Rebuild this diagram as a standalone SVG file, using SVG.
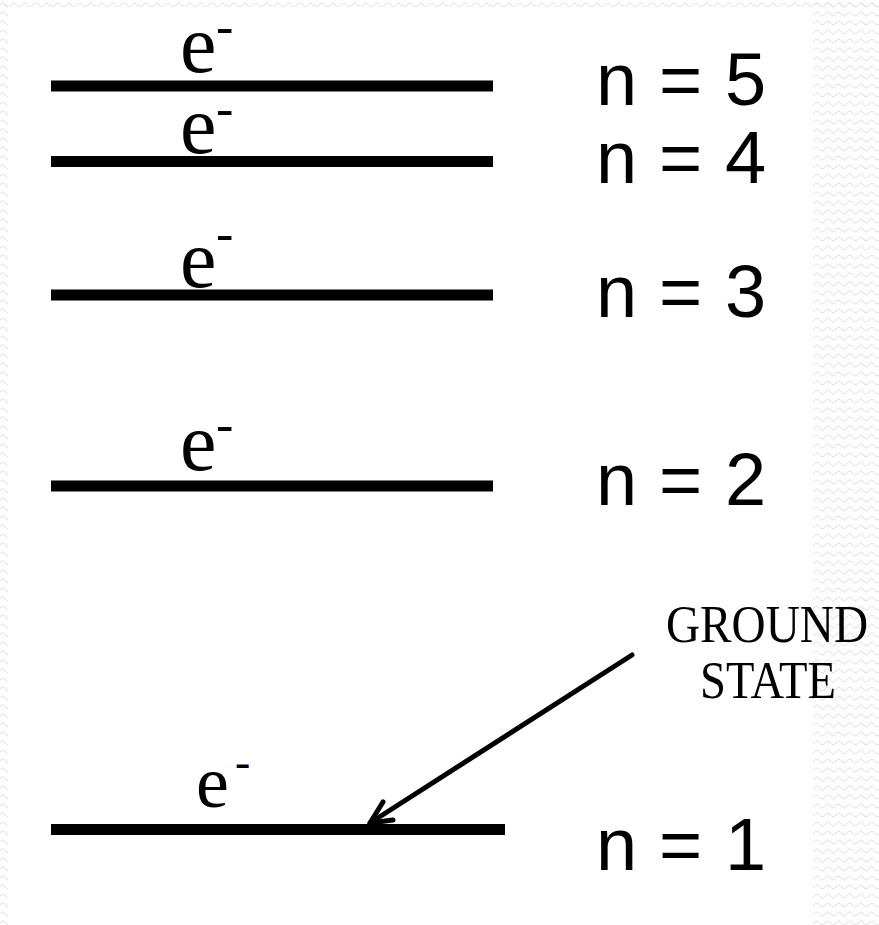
<svg xmlns="http://www.w3.org/2000/svg" width="879" height="925" viewBox="0 0 879 925">
  <defs>
    <pattern id="wave" width="11" height="9" patternUnits="userSpaceOnUse">
      <path d="M0 5 Q2.75 1 5.5 5 T11 5" fill="none" stroke="#dcdcdc" stroke-width="1"/>
    </pattern>
  </defs>
  <style>
    .level { stroke: #000; stroke-width: 11; stroke-linecap: butt; }
    .e { font-family: "Liberation Serif", "Times New Roman", serif; font-size: 82px; fill: #000; }
    .m { font-family: "Liberation Serif", "Times New Roman", serif; font-size: 52px; fill: #000; }
    .n { font-family: "Liberation Sans", Arial, Helvetica, sans-serif; font-size: 74px; fill: #000; }
    .gs { font-family: "Liberation Serif", "Times New Roman", serif; font-size: 53px; fill: #000; }
    .arrow { stroke: #000; stroke-width: 5; fill: none; stroke-linecap: round; stroke-linejoin: round; }
  </style>
  <rect x="0" y="0" width="879" height="925" fill="#ffffff"/>
  <rect x="0" y="0" width="879" height="7" fill="url(#wave)"/>
  <rect x="0" y="0" width="8" height="925" fill="url(#wave)"/>
  <rect x="813" y="0" width="66" height="925" fill="url(#wave)"/>

  <g id="level5">
    <line class="level" x1="51" y1="86" x2="493" y2="86"/>
    <text class="e" x="180" y="72">e<tspan class="m" x="216" y="44">-</tspan></text>
    <text class="n" y="105"><tspan x="596">n</tspan><tspan x="659">=</tspan><tspan x="725">5</tspan></text>
  </g>
  <g id="level4">
    <line class="level" x1="51" y1="161.5" x2="493" y2="161.5"/>
    <text class="e" x="180" y="153">e<tspan class="m" x="216" y="126">-</tspan></text>
    <text class="n" y="183"><tspan x="596">n</tspan><tspan x="659">=</tspan><tspan x="725">4</tspan></text>
  </g>
  <g id="level3">
    <line class="level" x1="51" y1="295" x2="493" y2="295"/>
    <text class="e" x="180" y="287">e<tspan class="m" x="216" y="251">-</tspan></text>
    <text class="n" y="317"><tspan x="596">n</tspan><tspan x="659">=</tspan><tspan x="725">3</tspan></text>
  </g>
  <g id="level2">
    <line class="level" x1="51" y1="486" x2="493" y2="486"/>
    <text class="e" x="180" y="470">e<tspan class="m" x="216" y="442">-</tspan></text>
    <text class="n" y="505"><tspan x="596">n</tspan><tspan x="659">=</tspan><tspan x="725">2</tspan></text>
  </g>
  <g id="level1">
    <line class="level" x1="51" y1="829.5" x2="505" y2="829.5"/>
    <text class="e" x="196" y="807" style="font-size:74px">e<tspan class="m" x="235" y="777" style="font-size:46px">-</tspan></text>
    <text class="n" y="870"><tspan x="596">n</tspan><tspan x="659">=</tspan><tspan x="725">1</tspan></text>
  </g>
  <g id="ground-state-label">
    <text class="gs" x="666" y="642" textLength="202" lengthAdjust="spacingAndGlyphs">GROUND</text>
    <text class="gs" x="700" y="698" textLength="136" lengthAdjust="spacingAndGlyphs">STATE</text>
  </g>
  <g id="connectors">
    <line class="arrow" x1="632" y1="655" x2="370" y2="823"/>
    <polyline class="arrow" points="383,802 370,823 393,820"/>
  </g>
</svg>
